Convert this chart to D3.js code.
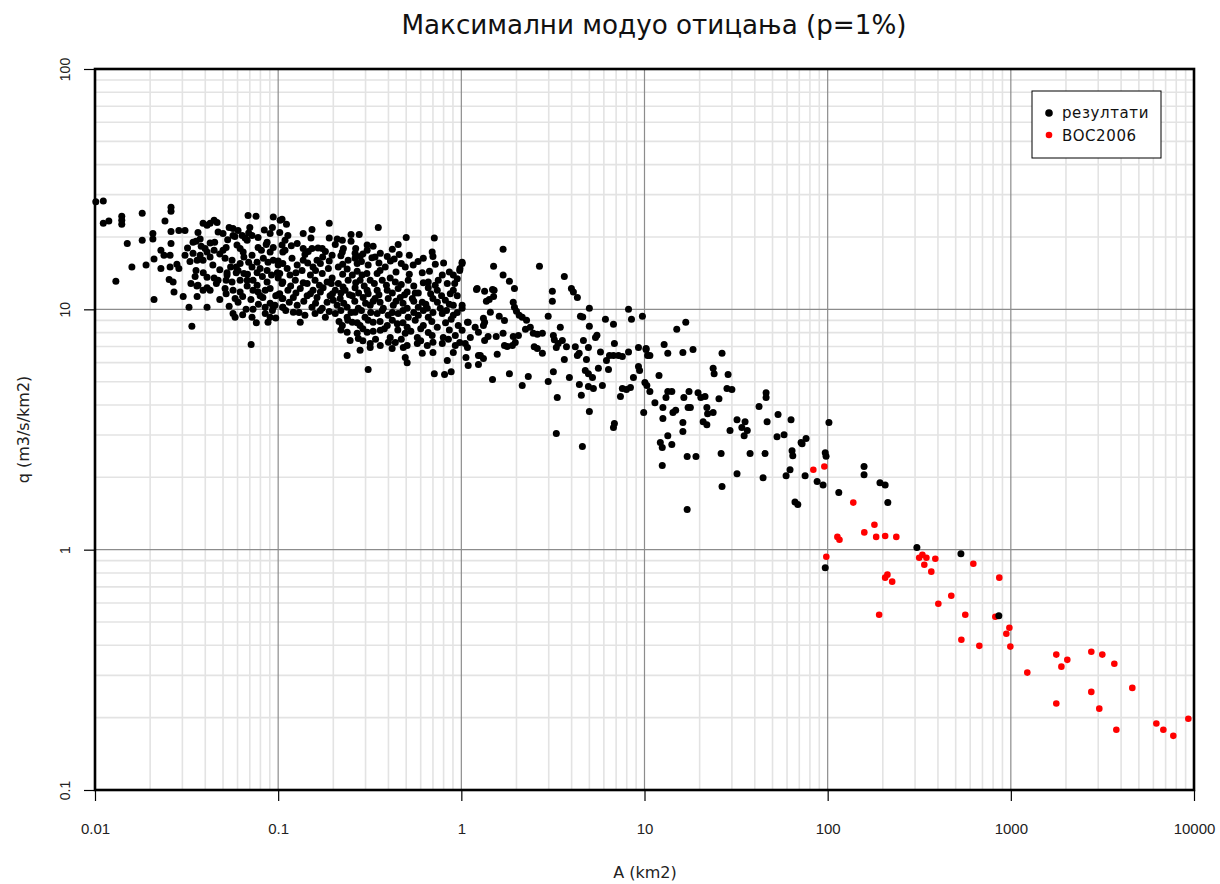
<!DOCTYPE html>
<html><head><meta charset="utf-8">
<script src="https://cdn.jsdelivr.net/npm/d3@7"></script>
<style>body{margin:0;background:#fff}svg{display:block}</style>
</head><body>
<svg id="chart" width="1220" height="884"></svg>
<script>
const chartTitle = "Максимални модуо отицања (p=1%)";
const xTitle = "A (km2)";
const yTitle = "q (m3/s/km2)";
const seriesNames = ["резултати", "BOC2006"];
const xTicks = [0.01, 0.1, 1, 10, 100, 1000, 10000];
const xTickLabels = ["0.01", "0.1", "1", "10", "100", "1000", "10000"];
const yTicks = [0.1, 1, 10, 100];
const yTickLabels = ["0.1", "1", "10", "100"];

// series "резултати": [A (km2), q (m3/s/km2)]
const results = [
[0.0101,28.0],[0.0111,28.2],[0.0111,22.8],[0.0119,23.3],[0.0140,24.4],[0.0140,23.5],[0.0140,22.6],[0.0130,13.1],[0.0150,18.8],[0.0159,15.0],[0.0181,25.1],[0.0181,19.4],[0.0190,15.3],[0.0210,11.0],[0.0207,20.7],[0.0207,19.6],[0.0241,23.3],[0.0260,26.6],[0.0260,25.6],[0.0260,21.1],[0.0260,18.8],[0.0229,17.6],[0.0238,16.8],[0.0257,16.8],[0.0257,15.0],[0.0210,16.2],[0.0229,14.8],[0.0280,15.4],[0.0287,14.8],[0.0310,16.8],[0.0287,21.3],[0.0310,21.3],[0.0254,13.3],[0.0267,13.0],[0.0270,11.8],[0.0303,11.3],[0.0326,10.2],[0.0338,8.5],[0.0334,12.8],[0.0352,13.7],[0.0361,11.3],[0.0343,19.0],[0.0343,17.1],[0.0356,19.2],[0.0375,19.6],[0.0365,20.9],[0.0389,22.8],[0.0409,22.4],[0.0425,22.8],[0.0447,23.5],[0.0464,23.0],[0.0399,17.9],[0.0409,17.3],[0.0375,16.8],[0.0361,16.0],[0.0389,16.0],[0.0425,16.5],[0.0356,14.5],[0.0409,13.6],[0.0447,13.5],[0.0409,12.3],[0.0389,12.0],[0.0409,10.2],[0.0470,13.2],[0.0520,13.2],[0.0526,13.9],[0.0513,12.2],[0.0513,16.3],[0.0500,17.6],[0.0500,20.7],[0.0520,18.1],[0.0540,21.9],[0.0567,21.7],[0.0604,21.3],[0.0596,18.5],[0.0620,17.9],[0.0660,19.8],[0.0644,17.3],[0.0650,16.5],[0.0604,14.5],[0.0590,14.2],[0.0650,14.1],[0.0620,13.2],[0.0677,13.2],[0.0677,12.5],[0.0567,12.0],[0.0582,11.1],[0.0604,10.7],[0.0567,9.62],[0.0582,9.27],[0.0668,10.0],[0.0729,10.0],[0.0720,9.27],[0.0712,7.14],[0.0685,24.6],[0.0757,24.4],[0.0700,21.9],[0.0720,20.3],[0.0777,19.9],[0.0777,18.1],[0.0720,16.8],[0.0767,15.7],[0.0720,15.0],[0.0797,14.8],[0.0729,13.2],[0.0767,12.6],[0.0777,11.8],[0.0797,11.4],[0.0849,10.2],[0.0904,10.6],[0.0930,9.9],[0.0904,9.27],[0.0880,8.83],[0.0825,11.2],[0.0940,24.2],[0.1025,23.5],[0.0930,21.9],[0.0904,20.7],[0.0870,19.0],[0.0940,18.1],[0.0904,17.3],[0.0940,16.0],[0.100,15.3],[0.099,14.2],[0.100,13.5],[0.105,12.8],[0.106,11.1],[0.096,10.4],[0.106,10.2],
[0.0567,20.3],[0.0636,20.3],[0.0425,18.9],[0.0677,19.4],[0.109,19.4],[0.0447,17.6],[0.081,17.6],[0.106,17.3],[0.059,15.0],[0.088,15.7],[0.0526,14.2],[0.0767,14.2],[0.087,14.5],[0.0365,12.6],[0.056,13.0],[0.087,13.0],[0.0425,12.0],[0.062,11.8],[0.0729,12.0],[0.0904,12.2],[0.102,11.6],[0.094,10.2],
[0.032,18.0],[0.038,18.3],[0.045,19.0],[0.053,19.5],[0.058,20.1],[0.069,20.8],[0.084,21.4],[0.047,21.0],[0.033,15.8],[0.044,15.3],[0.048,17.0],[0.056,16.0],[0.062,15.5],[0.069,15.7],[0.083,16.3],[0.086,18.6],[0.039,14.2],[0.048,14.6],[0.055,15.0],[0.068,14.0],[0.082,13.7],[0.092,13.9],[0.036,12.5],[0.046,12.8],[0.052,11.6],[0.064,11.3],[0.071,11.0],[0.085,12.0],[0.097,11.4],[0.048,11.0],[0.054,10.3],[0.078,10.5],[0.064,9.5],[0.085,9.6],[0.097,9.2],[0.076,8.8],
[0.105,23.7],[0.111,22.6],[0.190,22.8],[0.352,21.9],[0.153,21.5],[0.137,20.7],[0.250,20.5],[0.277,20.5],[0.102,20.9],[0.113,20.3],[0.151,19.8],[0.190,19.8],[0.210,19.6],[0.224,19.4],[0.250,19.2],[0.500,19.9],[0.712,19.8],[0.105,18.5],[0.127,18.8],[0.227,17.9],[0.306,18.5],[0.306,17.6],[0.452,18.6],[0.109,17.6],[0.137,17.9],[0.146,17.4],[0.153,17.9],[0.174,17.9],[0.181,17.4],[0.197,16.8],[0.263,17.1],[0.280,16.6],[0.224,17.3],[0.361,17.1],[0.394,16.6],[0.458,16.9],[0.693,17.3],[0.700,16.6],[1.01,15.7],[0.119,16.3],[0.163,16.0],[0.137,16.0],[0.241,16.0],[0.338,16.5],[0.263,16.3],[0.106,15.5],[0.112,14.8],[0.127,15.3],[0.135,14.5],[0.155,15.0],[0.170,15.5],[0.188,14.8],[0.213,15.0],[0.238,14.7],[0.270,15.5],[0.310,15.3],[0.384,15.0],[0.494,15.0],[0.546,15.3],[0.721,15.4],[0.983,14.8],[0.102,14.1],[0.116,13.9],[0.150,13.9],[0.174,14.1],[0.197,13.5],[0.254,13.9],[0.287,13.9],[0.347,14.1],[0.409,13.5],[0.612,14.2],[0.787,13.9],[0.904,13.9],[0.950,13.4],[0.748,13.2],[0.106,13.0],[0.124,13.2],[0.144,12.8],[0.159,13.2],[0.185,13.0],[0.213,12.8],[0.241,13.2],[0.280,13.2],[0.318,13.2],[0.370,13.2],[0.436,13.0],[0.513,13.2],[0.660,13.0],[0.838,12.8],[0.113,12.0],[0.132,12.2],[0.155,12.0],[0.176,12.3],[0.205,12.0],[0.232,12.0],[0.263,12.3],[0.306,12.0],[0.347,12.0],[0.394,12.0],[0.452,12.2],[0.506,11.8],[0.582,11.7],[0.660,12.3],[0.739,12.0],[0.904,12.0],[1.22,12.2],[0.105,11.1],[0.121,11.2],[0.144,11.4],[0.163,11.2],[0.192,11.4],[0.218,11.1],[0.254,11.4],[0.291,11.2],[0.338,11.1],[0.399,11.1],[0.464,11.2],[0.540,11.1],[0.612,10.7],[0.700,11.1],[0.818,10.9],[0.950,11.4],[1.01,10.4],[0.106,10.2],[0.127,10.4],[0.153,10.2],[0.174,10.1],[0.210,10.4],[0.238,10.2],[0.274,10.1],[0.318,10.4],[0.375,10.1],[0.425,10.4],[0.506,10.1],[0.582,10.2],[0.652,10.1],[0.768,10.1],[0.904,10.4],[0.121,9.72],[0.140,9.45],[0.159,9.62],[0.181,9.27],[0.205,9.62],[0.238,9.27],[0.263,9.72],[0.298,9.27],[0.347,9.62],[0.399,9.45],[0.452,9.62],[0.513,9.27],[0.582,9.45],[0.660,9.27],[0.787,9.62],[0.904,9.45],[1.08,8.83],[1.19,8.42],[0.132,8.83],[0.224,8.57],[0.254,8.83],[0.280,8.57],[0.330,8.83],[0.394,8.57],[0.447,8.70],[0.506,8.42],[0.620,8.57],[0.739,8.42],[0.962,8.57],[0.238,8.03],[0.270,7.95],[0.306,8.03],[0.361,8.18],[0.409,7.63],[0.494,7.95],[0.575,7.63],[0.693,7.79],[0.797,7.63],[0.927,7.79],[1.12,7.63],[1.24,8.03],[0.247,7.41],[0.274,7.56],[0.318,7.20],[0.361,7.08],[0.436,7.28],[0.506,7.08],[0.575,7.20],[0.652,7.08],[0.787,7.20],[0.927,7.08],[1.05,7.20],[0.238,6.43],[0.280,6.76],[0.318,6.94],[0.419,6.87],[0.482,6.94],[0.612,6.56],[0.700,6.62],[0.838,6.13],[0.904,6.62],[0.494,6.31],[0.506,6.00],[1.09,5.84],[0.310,5.62],[0.712,5.40],[0.810,5.35],[0.880,5.50],[1.24,6.43],[0.980,7.28],
[0.118,18.4],[0.165,18.0],[0.205,18.6],[0.265,17.9],[0.33,18.3],[0.42,17.8],[0.14,16.9],[0.175,16.5],[0.22,16.7],[0.29,17.0],[0.325,16.4],[0.43,16.2],[0.52,16.8],[0.62,16.3],[0.10,15.9],[0.145,15.6],[0.19,15.9],[0.225,15.4],[0.285,15.8],[0.355,15.6],[0.41,15.9],[0.47,15.5],[0.58,15.8],[0.80,15.6],[0.125,14.2],[0.16,14.5],[0.225,14.0],[0.27,14.4],[0.305,14.1],[0.36,14.5],[0.44,14.3],[0.52,14.0],[0.67,14.4],[0.86,14.3],[0.117,12.5],[0.137,12.9],[0.168,12.6],[0.195,12.8],[0.226,12.4],[0.265,12.9],[0.295,12.5],[0.335,12.8],[0.39,12.6],[0.47,12.7],[0.55,12.5],[0.62,12.9],[0.72,12.6],[0.92,12.8],[0.10,11.5],[0.125,11.7],[0.15,11.6],[0.17,11.8],[0.198,11.6],[0.22,11.7],[0.245,11.5],[0.275,11.7],[0.31,11.6],[0.355,11.5],[0.42,11.7],[0.49,11.5],[0.56,11.7],[0.68,11.6],[0.78,11.4],[0.87,11.6],[0.115,10.7],[0.138,10.8],[0.16,10.6],[0.185,10.7],[0.2,10.9],[0.228,10.6],[0.262,10.8],[0.3,10.6],[0.33,10.8],[0.36,10.7],[0.44,10.8],[0.48,10.6],[0.55,10.8],[0.64,10.5],[0.74,10.7],[0.86,10.5],[0.11,9.9],[0.13,9.7],[0.17,9.9],[0.19,9.8],[0.22,9.9],[0.25,9.7],[0.285,9.9],[0.32,9.7],[0.37,9.9],[0.42,9.7],[0.48,9.9],[0.55,9.7],[0.62,9.9],[0.70,9.7],[0.83,9.9],[0.95,9.7],[0.215,8.9],[0.24,9.0],[0.27,8.8],[0.31,9.0],[0.36,8.9],[0.42,9.0],[0.48,8.8],[0.56,9.0],[0.69,8.9],[0.82,8.8],[0.88,9.1],[0.22,8.2],[0.29,8.3],[0.33,8.1],[0.38,8.3],[0.45,8.2],[0.53,8.1],[0.60,8.3],[0.66,8.0],[0.86,8.2],[0.29,7.4],[0.34,7.5],[0.40,7.3],[0.47,7.5],[0.60,7.4],[0.70,7.3],[0.85,7.5],
[1.69,17.8],[1.01,15.5],[0.98,14.5],[1.50,15.1],[2.67,15.1],[1.69,13.9],[1.83,13.1],[1.95,12.2],[1.21,12.1],[1.34,11.9],[1.48,12.1],[1.51,12.0],[3.65,13.7],[3.14,11.9],[3.14,10.8],[3.99,12.2],[4.09,11.8],[4.30,11.2],[1.37,10.8],[1.42,11.0],[1.50,11.3],[1.92,10.7],[1.01,10.1],[5.00,10.1],[8.18,10.0],[8.49,9.10],[9.74,9.36],[1.44,9.72],[1.95,10.2],[2.00,9.81],[2.07,9.45],[2.15,9.27],[2.27,9.0],[1.61,9.36],[1.72,8.99],[1.32,9.18],[1.34,8.83],[1.09,8.83],[1.32,8.57],[2.98,9.36],[4.47,9.36],[4.60,9.30],[6.12,9.10],[6.77,8.66],[5.00,8.51],[3.47,8.42],[1.01,8.18],[1.08,6.94],[1.34,7.41],[1.40,7.71],[1.55,7.71],[1.69,7.95],[1.92,7.71],[2.05,7.79],[2.24,8.26],[2.38,8.42],[2.47,7.95],[2.60,7.87],[2.77,7.95],[3.18,7.79],[3.22,7.48],[3.38,7.20],[3.30,6.94],[3.56,7.41],[3.75,6.99],[4.19,6.99],[4.64,7.41],[5.40,7.63],[5.50,7.80],[4.94,6.94],[5.75,6.65],[6.85,7.20],[6.44,6.43],[6.77,6.43],[7.21,6.43],[7.57,6.37],[8.18,6.65],[9.27,6.94],[10.2,6.87],[10.4,6.43],[1.72,7.08],[1.78,7.00],[1.90,7.08],[1.97,7.28],[2.50,6.99],[2.60,6.87],[2.77,6.56],[1.06,6.31],[1.24,5.90],[1.27,6.43],[1.32,6.24],[1.57,6.50],[3.65,6.19],[4.30,6.43],[4.40,6.56],[4.82,6.19],[4.75,5.56],[4.94,5.40],[5.20,5.20],[5.60,5.68],[6.36,5.62],[6.20,6.13],[9.27,5.78],[9.40,5.56],[8.70,5.20],[1.83,5.40],[2.32,5.26],[1.48,5.11],[2.15,4.82],[2.98,5.01],[3.18,5.50],[3.89,5.20],[4.41,4.87],[4.94,4.77],[5.26,4.68],[5.89,4.82],[4.52,4.39],[3.34,4.30],[7.39,4.34],[7.57,4.68],[7.97,4.64],[8.38,4.73],[10.05,4.96],[10.3,4.82],[5.00,3.76],[6.85,3.35],[6.77,3.22],[9.90,3.72],[3.30,3.04],[4.58,2.69],
[16.8,8.83],[15.0,8.26],[12.8,7.14],[10.2,6.81],[10.7,6.43],[13.4,6.56],[16.2,6.62],[18.4,6.81],[26.5,6.56],[23.7,5.68],[24.0,5.40],[12.0,5.31],[28.6,5.35],[10.7,4.55],[13.4,4.55],[14.1,4.55],[13.1,4.30],[16.4,4.30],[17.5,4.55],[19.6,4.50],[20.3,4.30],[21.4,4.34],[25.5,4.25],[28.2,4.68],[30.0,4.64],[11.4,4.09],[12.6,3.90],[17.3,3.90],[17.8,3.90],[21.9,3.90],[22.1,3.68],[23.7,3.72],[14.3,3.72],[14.8,3.80],[12.6,3.51],[20.9,3.41],[21.9,3.31],[16.2,3.38],[16.2,3.10],[13.4,2.98],[29.3,3.13],[32.0,3.47],[35.4,3.41],[34.0,3.22],[36.4,3.13],[35.0,2.98],[42.2,3.94],[46.1,4.50],[46.1,4.30],[46.7,3.41],[53.6,3.65],[63.1,3.47],[52.9,2.95],[57.8,3.01],[76.2,2.90],[71.6,2.79],[12.2,2.79],[12.5,2.66],[14.1,2.74],[17.1,2.44],[19.1,2.44],[26.2,2.51],[37.7,2.51],[45.5,2.51],[63.9,2.58],[64.5,2.46],[12.5,2.24],[32.0,2.07],[44.4,1.99],[59.3,2.03],[62.3,2.15],[75.3,2.03],[87.6,1.92],[94.4,1.86],[97,2.53],[101.6,3.38],[26.5,1.83],[66.3,1.58],[68.7,1.54],[17.1,1.47],
[115,1.73],[158,2.22],[158,2.05],[193,1.90],[206,1.86],[213,1.57],[98,2.45],[72.5,2.76],[307,1.02],[534,0.962],[97,0.841],[860,0.531]
];

// series "BOC2006": [A (km2), q (m3/s/km2)]
const boc2006 = [
[83.5,2.15],[95.9,2.22],[138,1.57],[113,1.13],[116,1.10],[158.5,1.18],[180,1.27],[184,1.13],[206,1.14],[237,1.13],[98.3,0.935],[206,0.765],[212,0.787],[225,0.736],[191,0.536],[316,0.926],[329,0.953],[346,0.926],[337,0.866],[387,0.917],[368,0.810],[624,0.874],[473,0.643],[402,0.596],[564,0.536],[823,0.526],[537,0.422],[865,0.765],[982,0.473],[945,0.447],[994,0.395],[673,0.398],[1230,0.308],[1771,0.366],[2034,0.348],[1888,0.326],[2750,0.376],[3158,0.366],[3673,0.335],[4605,0.266],[2750,0.256],[1771,0.229],[3041,0.218],[3767,0.178],[6228,0.189],[6802,0.178],[7710,0.168],[9312,0.198]
];

const svg = d3.select("#chart");
const L = 95, R = 1194, T = 69, B = 790;
const x = d3.scaleLog().domain([0.01, 10000]).range([L, R]);
const y = d3.scaleLog().domain([0.1, 100]).range([B, T]);

svg.append("rect").attr("width", 1220).attr("height", 884).attr("fill", "#fff");

// grid
const grid = svg.append("g");
const isMajor = v => Math.abs(Math.log10(v) - Math.round(Math.log10(v))) < 1e-9;
grid.selectAll("line.vx").data(x.ticks().filter(v => !isMajor(v))).join("line")
  .attr("x1", d => x(d)).attr("x2", d => x(d)).attr("y1", T).attr("y2", B)
  .attr("stroke", "#e3e3e3").attr("stroke-width", 1.6);
grid.selectAll("line.hy").data(y.ticks().filter(v => !isMajor(v))).join("line")
  .attr("y1", d => y(d)).attr("y2", d => y(d)).attr("x1", L).attr("x2", R)
  .attr("stroke", "#e3e3e3").attr("stroke-width", 1.6);
grid.selectAll("line.mx").data(xTicks).join("line")
  .attr("x1", d => x(d)).attr("x2", d => x(d)).attr("y1", T).attr("y2", B)
  .attr("stroke", "#8c8c8c").attr("stroke-width", 1.2);
grid.selectAll("line.my").data(yTicks).join("line")
  .attr("y1", d => y(d)).attr("y2", d => y(d)).attr("x1", L).attr("x2", R)
  .attr("stroke", "#8c8c8c").attr("stroke-width", 1.2);

// points
const pts = svg.append("g");
pts.selectAll("circle.boc").data(boc2006).join("circle")
  .attr("cx", d => x(d[0])).attr("cy", d => y(d[1])).attr("r", 3.3).attr("fill", "#ff0000");
pts.selectAll("circle.res").data(results).join("circle")
  .attr("cx", d => x(d[0])).attr("cy", d => y(d[1])).attr("r", 3.5).attr("fill", "#000");

// frame
svg.append("rect").attr("x", L).attr("y", T).attr("width", R - L).attr("height", B - T)
  .attr("fill", "none").attr("stroke", "#000").attr("stroke-width", 2.6);

// axes
const xAxis = svg.append("g").attr("transform", `translate(0,${B})`)
  .call(d3.axisBottom(x).tickValues(xTicks).tickSize(11).tickPadding(0)
    .tickFormat((d, i) => xTickLabels[i]));
xAxis.select(".domain").remove();
xAxis.selectAll(".tick line").attr("stroke", "#000").attr("stroke-width", 1.2);
xAxis.selectAll(".tick text").attr("y", 44).attr("dy", null)
  .attr("font-family", "'Liberation Sans', Arial, sans-serif").attr("font-size", 15).attr("fill", "#222");

const yAxis = svg.append("g").attr("transform", `translate(${L},0)`)
  .call(d3.axisLeft(y).tickValues(yTicks).tickSize(11)
    .tickFormat((d, i) => yTickLabels[i]));
yAxis.select(".domain").remove();
yAxis.selectAll(".tick line").attr("stroke", "#000").attr("stroke-width", 1.2);
yAxis.selectAll(".tick text").attr("transform", "rotate(-90)")
  .attr("x", 0).attr("y", -25).attr("dy", null).attr("text-anchor", "middle")
  .attr("font-family", "'Liberation Sans', Arial, sans-serif").attr("font-size", 14).attr("fill", "#222");

// titles
svg.append("text").attr("x", 654).attr("y", 34).attr("text-anchor", "middle")
  .attr("font-family", "'DejaVu Sans', sans-serif").attr("font-size", 26)
  .attr("textLength", 505).attr("lengthAdjust", "spacingAndGlyphs").attr("fill", "#111")
  .text(chartTitle);
svg.append("text").attr("x", 645).attr("y", 878).attr("text-anchor", "middle")
  .attr("font-family", "'DejaVu Sans', sans-serif").attr("font-size", 16).attr("fill", "#222")
  .text(xTitle);
svg.append("text").attr("transform", `translate(29,${(T + B) / 2}) rotate(-90)`)
  .attr("text-anchor", "middle")
  .attr("font-family", "'DejaVu Sans', sans-serif").attr("font-size", 16).attr("fill", "#222")
  .text(yTitle);

// legend
const lg = svg.append("g");
lg.append("rect").attr("x", 1032).attr("y", 91).attr("width", 129).attr("height", 67)
  .attr("fill", "#fff").attr("stroke", "#000").attr("stroke-width", 1);
const colors = ["#000", "#ff0000"];
seriesNames.forEach((n, i) => {
  lg.append("circle").attr("cx", 1049).attr("cy", 113 + i * 22).attr("r", i ? 3.3 : 3.8).attr("fill", colors[i]);
  lg.append("text").attr("x", 1062).attr("y", 118 + i * 23)
    .attr("font-family", "'DejaVu Sans', sans-serif").attr("font-size", 15).attr("fill", "#111")
    .attr("letter-spacing", 0.6)
    .text(n);
});
</script>
</body></html>
